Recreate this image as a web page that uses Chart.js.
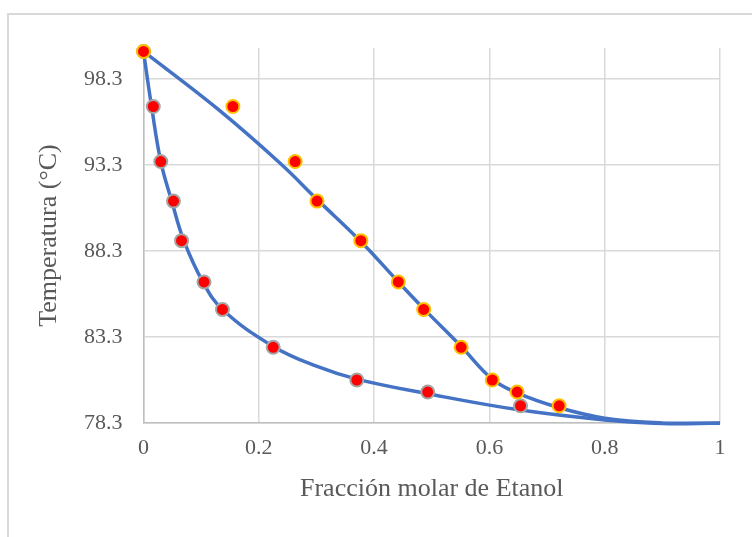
<!DOCTYPE html>
<html lang="es">
<head>
  <meta charset="UTF-8" />
  <title>Temperatura vs Fracción molar de Etanol</title>
  <script src="https://cdn.jsdelivr.net/npm/chart.js"></script>
  <style>
    body { margin: 0; background: #fff; }
    #wrap { position: relative; width: 752px; height: 537px; }
    #frame {
      position: absolute; left: 7px; top: 13px; right: 0; bottom: 0;
      border-top: 2px solid #d9d9d9; border-left: 2px solid #d9d9d9;
    }
    canvas { position: absolute; left: 0; top: 0; }
  </style>
</head>
<body>
  <div id="wrap">
    <div id="frame"></div>
    <canvas id="chart" width="752" height="537"></canvas>
  </div>

  <script>
    // measured points (temperature shared by liquid and vapour)
    const temps   = [99.9, 96.7, 93.5, 91.2, 88.9, 86.5, 84.9, 82.7, 80.8, 80.1, 79.3];
    const xLiquid = [0, 0.017, 0.030, 0.052, 0.066, 0.105, 0.137, 0.225, 0.370, 0.493, 0.654];
    const yVapor  = [0, 0.155, 0.263, 0.301, 0.377, 0.442, 0.486, 0.551, 0.605, 0.648, 0.721];

    // smooth curves
    const liqCurveX = [0, 0.014, 0.030, 0.049, 0.070, 0.103, 0.137, 0.225, 0.3, 0.37, 0.493, 0.654, 0.8, 0.9, 1];
    const liqCurveT = [99.9, 96.7, 93.5, 91.2, 88.9, 86.5, 84.9, 82.75, 81.6, 80.85, 80.0, 79.05, 78.48, 78.27, 78.3];
    const vapCurveX = [0, 0.127, 0.237, 0.301, 0.377, 0.442, 0.486, 0.551, 0.605, 0.648, 0.72, 0.8, 0.9, 1];
    const vapCurveT = [99.9, 96.6, 93.4, 91.3, 88.85, 86.5, 84.95, 82.75, 80.85, 80.05, 79.2, 78.58, 78.3, 78.28];

    const xTicks = [0, 0.2, 0.4, 0.6, 0.8, 1];
    const yTicks = [78.3, 83.3, 88.3, 93.3, 98.3];

    const pts = (xs, ys) => xs.map((x, i) => ({ x: x, y: ys[i] }));
    const textColor = '#595959';
    const serif = "'Liberation Serif', 'Times New Roman', serif";

    new Chart(document.getElementById('chart'), {
      type: 'scatter',
      data: {
        datasets: [
          {
            label: 'Vapor',
            data: pts(yVapor, temps),
            backgroundColor: '#ff0000',
            borderColor: '#ffc000',
            borderWidth: 2,
            pointRadius: 6.5,
            clip: false
          },
          {
            label: 'Líquido',
            data: pts(xLiquid, temps),
            backgroundColor: '#ff0000',
            borderColor: '#a5a5a5',
            borderWidth: 2,
            pointRadius: 6.5,
            clip: false
          },
          {
            label: 'Curva vapor',
            data: pts(vapCurveX, vapCurveT),
            showLine: true,
            pointRadius: 0,
            borderColor: '#4472c4',
            borderWidth: 3.5,
            tension: 0.4,
            clip: false
          },
          {
            label: 'Curva líquido',
            data: pts(liqCurveX, liqCurveT),
            showLine: true,
            pointRadius: 0,
            borderColor: '#4472c4',
            borderWidth: 3.5,
            tension: 0.4,
            clip: false
          }
        ]
      },
      options: {
        responsive: false,
        animation: false,
        layout: { padding: { top: 48, right: 32, left: 0, bottom: 0 } },
        plugins: { legend: { display: false }, tooltip: { enabled: false } },
        scales: {
          x: {
            min: 0,
            max: 1,
            afterBuildTicks: s => { s.ticks = xTicks.map(v => ({ value: v })); },
            afterFit: s => { s.height = 114; },
            grid: { color: '#d9d9d9', lineWidth: 1.5, drawTicks: false },
            border: { color: '#bfbfbf', width: 1.5 },
            ticks: {
              color: textColor,
              font: { family: serif, size: 22 },
              padding: 12,
              maxRotation: 0,
              callback: v => String(v)
            },
            title: {
              display: true,
              text: 'Fracción molar de Etanol',
              color: textColor,
              font: { family: serif, size: 26 },
              padding: { top: 0, bottom: 32 }
            }
          },
          y: {
            min: 78.3,
            max: 100.1,
            afterBuildTicks: s => { s.ticks = yTicks.map(v => ({ value: v })); },
            afterFit: s => { s.width = 143.5; },
            grid: { color: '#d9d9d9', lineWidth: 1.5, drawTicks: false },
            border: { color: '#bfbfbf', width: 1.5 },
            ticks: {
              color: textColor,
              font: { family: serif, size: 22 },
              padding: 21,
              callback: v => v.toFixed(1)
            },
            title: {
              display: true,
              text: 'Temperatura (°C)',
              color: textColor,
              font: { family: serif, size: 26 },
              padding: { top: 34 }
            }
          }
        }
      }
    });
  </script>
</body>
</html>
